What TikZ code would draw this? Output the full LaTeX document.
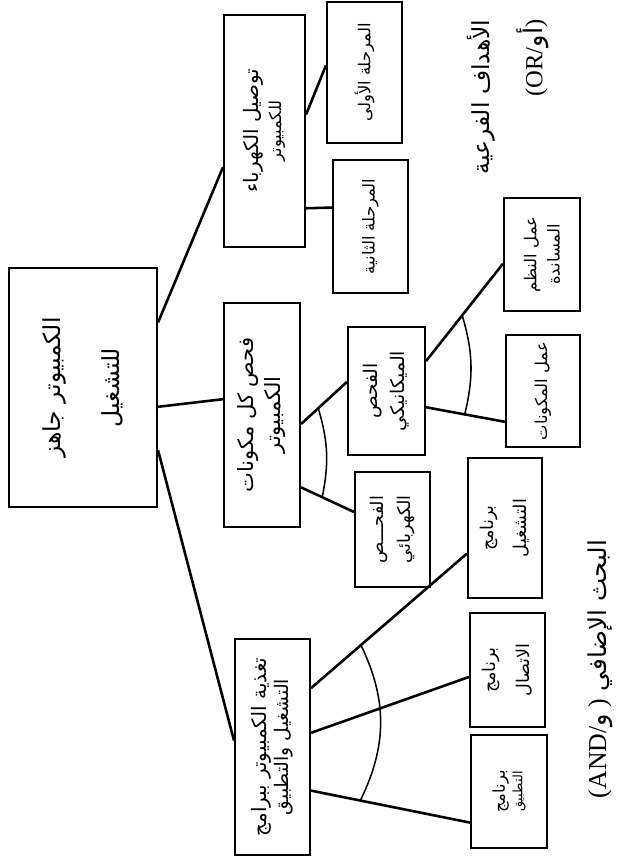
\documentclass[tikz,border=0pt]{standalone}
\usepackage{fontspec}
\setmainfont{Liberation Serif}
\newfontfamily\arabicfont[Script=Arabic]{DejaVu Sans}
\TeXXeTstate=1
\usetikzlibrary{calc}

\newcommand{\ar}[1]{{\arabicfont\beginR #1\endR}}
\newcommand{\vtext}[2]{\rotatebox{90}{\vbox{\baselineskip=#1\lineskiplimit=-\maxdimen\halign{\hfil##\hfil\cr#2\crcr}}}}

\tikzset{
  goalbox/.style 2 args={draw, line width=1.8pt, inner sep=0pt, minimum width=#1*0.03cm, minimum height=#2*0.03cm},
  link/.style={line width=2.2pt},
  andarc/.style={line width=1.3pt},
}

\begin{document}
\begin{tikzpicture}[x=0.03cm, y=-0.03cm]
\useasboundingbox (0,0) rectangle (621,863);

%Main goal
\node[goalbox={148}{239}, font=\fontsize{20}{24}\selectfont] (root) at (83,387.5) {\vtext{51pt}{\ar{الكمبيوتر جاهز}\cr\ar{للتشغيل}}};

%First sub-goal (OR)
\node[goalbox={81}{232}, font=\fontsize{17}{20}\selectfont] (pwr) at (264.5,131) {\vtext{19pt}{\ar{توصيل الكهرباء}\cr\fontsize{14}{16}\selectfont\ar{للكمبيوتر}}};
\node[goalbox={75}{141}, font=\fontsize{14}{16}\selectfont] (st1) at (364.5,72.5) {\vtext{16pt}{\ar{المرحلة الأولى}}};
\node[goalbox={75}{133}, font=\fontsize{14}{16}\selectfont] (st2) at (370.5,226.5) {\vtext{16pt}{\ar{المرحلة الثانية}}};

%Second sub-goal (AND)
\node[goalbox={76}{224}, font=\fontsize{18}{22}\selectfont] (chk) at (262,415) {\vtext{23pt}{\ar{فحص كل مكونات}\cr\ar{الكمبيوتر}}};
\node[goalbox={77}{128}, font=\fontsize{16}{18}\selectfont] (mech) at (386.5,391) {\vtext{23pt}{\ar{الفحص}\cr\ar{الميكانيكي}}};
\node[goalbox={75}{115}, font=\fontsize{15}{18}\selectfont] (elec) at (392.5,529.5) {\vtext{23pt}{\ar{الفحـــص}\cr\ar{الكهربائي}}};
\node[goalbox={76}{113}, font=\fontsize{14}{17}\selectfont] (sup) at (542,254.5) {\vtext{20pt}{\ar{عمل النظم}\cr\ar{المساندة}}};
\node[goalbox={74}{112}, font=\fontsize{14}{17}\selectfont] (comp) at (543,391) {\vtext{16pt}{\ar{عمل المكونات}}};

%Third sub-goal (AND)
\node[goalbox={75}{216}, font=\fontsize{17}{19}\selectfont] (feed) at (272.5,747) {\vtext{19pt}{\ar{تغذية الكمبيوتر ببرامج}\cr\fontsize{16}{19}\selectfont\ar{التشغيل والتطبيق}}};
\node[goalbox={74}{140}, font=\fontsize{15}{17}\selectfont] (os) at (505,528) {\vtext{28pt}{\ar{برنامج}\cr\ar{التشغيل}}};
\node[goalbox={75}{114}, font=\fontsize{15}{17}\selectfont] (net) at (507.5,670) {\vtext{29pt}{\ar{برنامج}\cr\ar{الاتصال}}};
\node[goalbox={76}{113}, font=\fontsize{14}{17}\selectfont] (app) at (509,791.5) {\vtext{15pt}{\ar{برنامج}\cr\fontsize{11}{13}\selectfont\ar{التطبيق}}};

%Labels
\node[font=\fontsize{20}{24}\selectfont] (orlbl) at (508,97) {\vtext{45pt}{\ar{الأهداف الفرعية}\cr\hfill{\fontsize{21}{24}\selectfont\beginL(OR/{\arabicfont\fontsize{22}{24}\selectfont أو})\endL}}};
\node[font=\fontsize{21}{24}\selectfont] (andlbl) at (600,669) {\rotatebox{90}{\ar{البحث الإضافي {\rmfamily\fontsize{22}{24}\selectfont\beginL(AND/{\arabicfont و} )\endL}}}};

%Links
\draw[link] ($(root.north east)!.23!(root.south east)$) -- ($(pwr.north west)!.655!(pwr.south west)$);
\draw[link] ($(root.north east)!.58!(root.south east)$) -- ($(chk.north west)!.43!(chk.south west)$);
\draw[link] ($(root.north east)!.76!(root.south east)$) -- ($(feed.north west)!.47!(feed.south west)$);

\draw[link] ($(pwr.north east)!.43!(pwr.south east)$) -- ($(st1.north west)!.45!(st1.south west)$);
\draw[link] ($(pwr.north east)!.83!(pwr.south east)$) -- ($(st2.north west)!.36!(st2.south west)$);

\draw[link] ($(chk.north east)!.54!(chk.south east)$) -- coordinate[pos=.375] (c1) ($(mech.north west)!.43!(mech.south west)$);
\draw[link] ($(chk.north east)!.82!(chk.south east)$) -- coordinate[pos=.4] (c2) ($(elec.north west)!.35!(elec.south west)$);
\draw[andarc] (c1) to[bend left=14] (c2);

\draw[link] ($(mech.north east)!.27!(mech.south east)$) -- coordinate[pos=.47] (m1) ($(sup.north west)!.58!(sup.south west)$);
\draw[link] ($(mech.north east)!.625!(mech.south east)$) -- coordinate[pos=.49] (m2) ($(comp.north west)!.77!(comp.south west)$);
\draw[andarc] (m1) to[bend left=15] (m2);

\draw[link] ($(feed.north east)!.23!(feed.south east)$) -- coordinate[pos=.32] (f1) ($(os.north west)!.68!(os.south west)$);
\draw[link] ($(feed.north east)!.435!(feed.south east)$) -- ($(net.north west)!.56!(net.south west)$);
\draw[link] ($(feed.north east)!.70!(feed.south east)$) -- coordinate[pos=.31] (f3) ($(app.north west)!.77!(app.south west)$);
\draw[andarc] (f1) to[bend left=26] (f3);

\end{tikzpicture}
\end{document}
